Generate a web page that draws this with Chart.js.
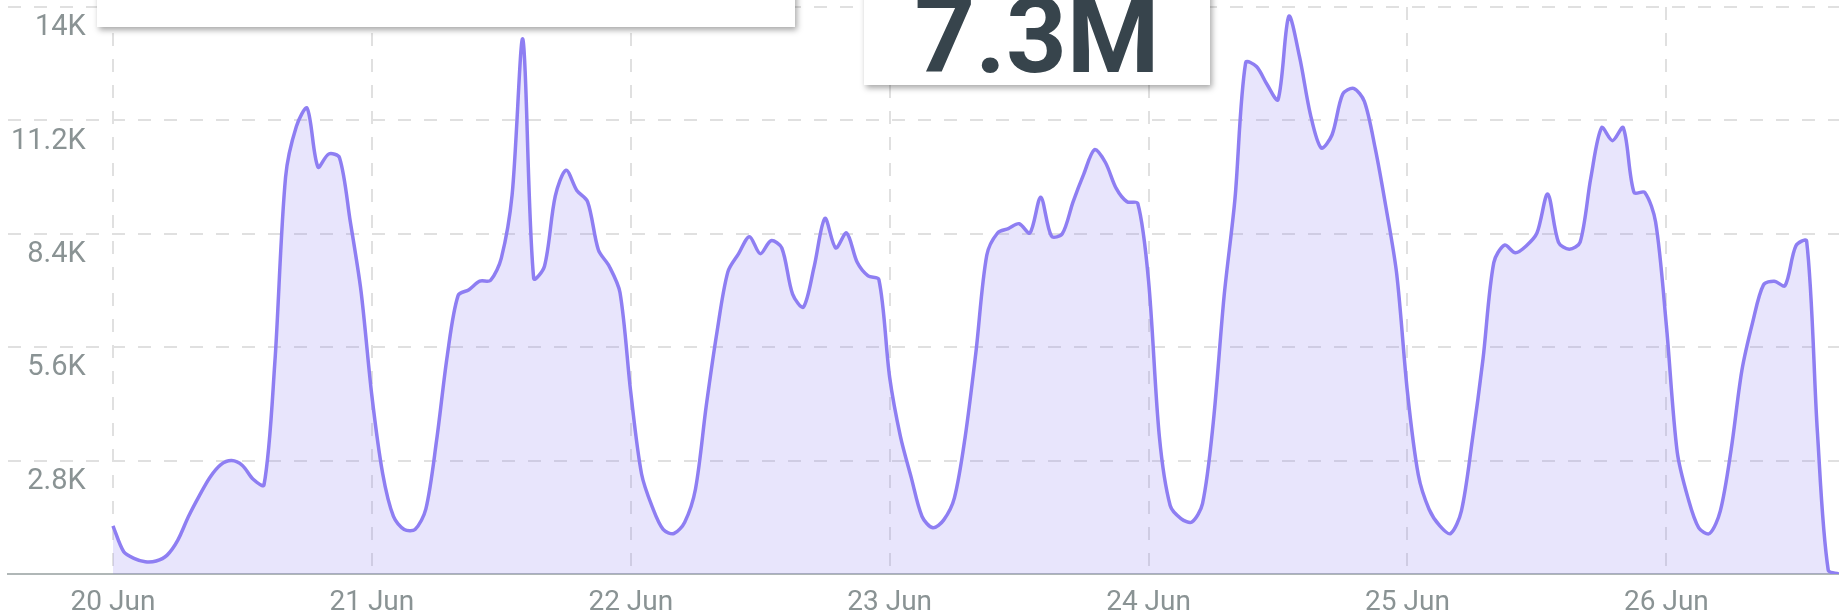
<!DOCTYPE html>
<html>
<head>
<meta charset="utf-8">
<script src="https://cdn.jsdelivr.net/npm/chart.js@4.4.1/dist/chart.umd.min.js"></script>
<style>
    body { margin: 0; background: #fff; overflow: hidden; }
    #wrap { position: relative; width: 1839px; height: 614px; overflow: hidden; }
    #chartBox { position: absolute; left: 0; top: 0; width: 1839px; height: 614px; }
    .card {
        position: absolute;
        background: #fff;
        box-shadow: 2px 3px 6px rgba(0, 0, 0, 0.35);
        overflow: hidden;
    }
    #card1 { left: 97px; top: -20px; width: 698px; height: 47px; }
    #card2 { left: 864px; top: -20px; width: 346px; height: 105px; }
    .big {
        position: absolute;
        left: 0; right: 0;
        text-align: center;
        font: 700 106px Roboto, sans-serif;
        line-height: 1;
        color: #37444c;
    }
    #card2 .big { top: 3px; }
</style>
</head>
<body>
<div id="wrap">
    <div id="chartBox"><canvas id="trafficChart"></canvas></div>
    <div class="card" id="card1"></div>
    <div class="card" id="card2"><div class="big">7.3M</div></div>
</div>
<script>
// hourly values starting 20 Jun 00:00
const dayLabels = ['20 Jun', '21 Jun', '22 Jun', '23 Jun', '24 Jun', '25 Jun', '26 Jun'];
const yTicks = [0, 2800, 5600, 8400, 11200, 14000];
const yTickLabels = ['', '2.8K', '5.6K', '8.4K', '11.2K', '14K'];
const traffic = [
    1190, 550, 380, 300, 320, 460, 830, 1420, 1930, 2390, 2700, 2800,
    2680, 2340, 2200, 5200, 9800, 11050, 11500, 10050, 10370, 10280, 8700, 6970,
    4400, 2480, 1420, 1100, 1100, 1600, 3300, 5410, 6880, 7020, 7230, 7250,
    7800, 9360, 13200, 7300, 7600, 9330, 9970, 9470, 9190, 8000, 7600, 6950,
    4480, 2470, 1650, 1100, 1000, 1280, 2100, 4160, 5990, 7460, 7910, 8330,
    7910, 8230, 8050, 6910, 6590, 7590, 8780, 8050, 8420, 7690, 7360, 7270,
    4850, 3390, 2380, 1420, 1140, 1330, 1880, 3390, 5490, 7870, 8420, 8530,
    8650, 8420, 9300, 8340, 8400, 9190, 9880, 10480, 10160, 9520, 9190, 9150,
    7230, 3390, 1690, 1370, 1280, 1740, 3750, 6860, 9240, 12630, 12530, 12080,
    11710, 13770, 12760, 11350, 10520, 10840, 11850, 11990, 11670, 10520, 9060, 7410,
    4480, 2450, 1600, 1190, 1000, 1560, 3290, 5310, 7690, 8120, 7930, 8100,
    8420, 9380, 8190, 8020, 8190, 9790, 11020, 10700, 11020, 9420, 9420, 8690,
    6130, 3020, 1880, 1140, 1000, 1560, 3070, 5030, 6220, 7140, 7230, 7120,
    8100, 8220, 3500, 100, 0
];

const points = traffic.map((v, i) => ({ x: i, y: v }));
const labelColor = '#8a9394';
const gridStyle = { color: '#e0e0e0', lineWidth: 2, drawTicks: false };

// drop the extra room chart.js keeps for half labels
function noPadding(scale) {
    scale.paddingTop = 0;
    scale.paddingBottom = 0;
    scale.paddingLeft = 0;
    scale.paddingRight = 0;
}

const ctx = document.getElementById('trafficChart').getContext('2d');
new Chart(ctx, {
    type: 'line',
    data: {
        datasets: [{
            data: points,
            borderColor: 'rgb(142, 126, 242)',
            backgroundColor: 'rgba(142, 126, 242, 0.2)',
            borderWidth: 3.5,
            pointRadius: 0,
            tension: 0.3,
            fill: 'origin'
        }]
    },
    options: {
        responsive: true,
        maintainAspectRatio: false,
        animation: false,
        layout: { padding: { left: 8, top: 7, right: 0, bottom: 0 } },
        plugins: { legend: { display: false }, tooltip: { enabled: false } },
        scales: {
            x: {
                type: 'linear',
                min: -9.73,
                max: 160,
                afterBuildTicks: s => { s.ticks = dayLabels.map((_, i) => ({ value: i * 24 })); },
                afterFit: s => { noPadding(s); s.height = 40; },
                ticks: {
                    callback: v => dayLabels[v / 24],
                    font: { family: 'Roboto', size: 28 },
                    color: labelColor,
                    padding: 12,
                    maxRotation: 0,
                    autoSkip: false
                },
                grid: gridStyle,
                border: { display: true, color: '#b0b7b7', width: 2, dash: [13, 13] }
            },
            y: {
                min: 0,
                max: 14000,
                afterBuildTicks: s => { s.ticks = yTicks.map(v => ({ value: v })); },
                afterFit: s => { noPadding(s); s.width = 0; },
                ticks: {
                    callback: v => yTickLabels[yTicks.indexOf(v)],
                    font: { family: 'Roboto', size: 29 },
                    color: labelColor,
                    mirror: true,
                    crossAlign: 'far',
                    padding: 3,
                    labelOffset: 21
                },
                grid: gridStyle,
                border: { display: false, dash: [13, 13] }
            }
        }
    }
});
</script>
</body>
</html>
